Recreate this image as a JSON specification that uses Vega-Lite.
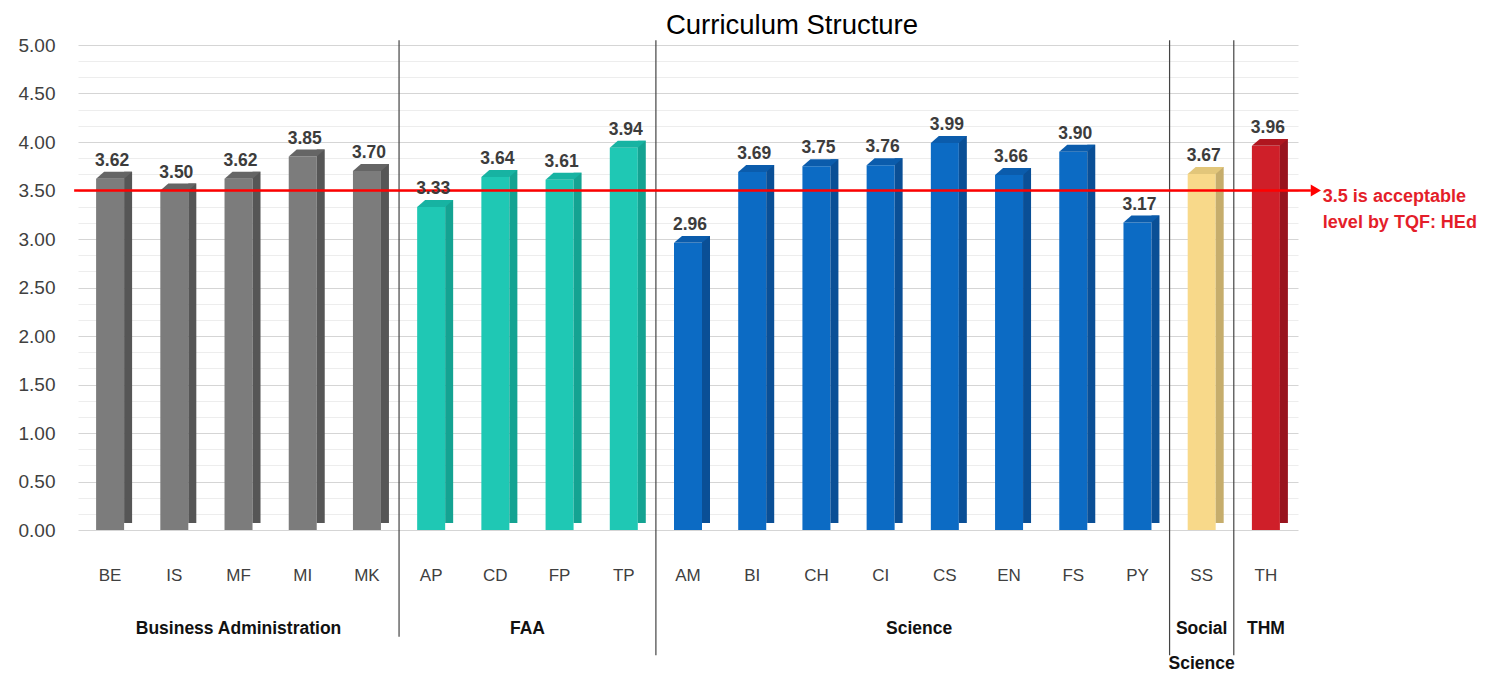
{
  "$schema": "https://vega.github.io/schema/vega-lite/v6.json",
  "width": 1220,
  "height": 485,
  "autosize": "none",
  "padding": {"left": 78, "top": 45, "right": 202, "bottom": 144},
  "background": "white",
  "config": {
    "font": "Liberation Sans",
    "view": {"stroke": null}
  },
  "title": {
    "text": "Curriculum Structure",
    "fontSize": 27.5,
    "fontWeight": "normal",
    "color": "#000000",
    "anchor": "middle",
    "dx": 104,
    "offset": -3
  },
  "data": {
    "values": [
      {"code": "BE", "group": "Business Administration", "value": 3.62},
      {"code": "IS", "group": "Business Administration", "value": 3.50},
      {"code": "MF", "group": "Business Administration", "value": 3.62},
      {"code": "MI", "group": "Business Administration", "value": 3.85},
      {"code": "MK", "group": "Business Administration", "value": 3.70},
      {"code": "AP", "group": "FAA", "value": 3.33},
      {"code": "CD", "group": "FAA", "value": 3.64},
      {"code": "FP", "group": "FAA", "value": 3.61},
      {"code": "TP", "group": "FAA", "value": 3.94},
      {"code": "AM", "group": "Science", "value": 2.96},
      {"code": "BI", "group": "Science", "value": 3.69},
      {"code": "CH", "group": "Science", "value": 3.75},
      {"code": "CI", "group": "Science", "value": 3.76},
      {"code": "CS", "group": "Science", "value": 3.99},
      {"code": "EN", "group": "Science", "value": 3.66},
      {"code": "FS", "group": "Science", "value": 3.90},
      {"code": "PY", "group": "Science", "value": 3.17},
      {"code": "SS", "group": "Social Science", "value": 3.67},
      {"code": "TH", "group": "THM", "value": 3.96}
    ]
  },
  "resolve": {"scale": {"x": "independent", "color": "independent"}, "axis": {"y": "independent"}},
  "layer": [
    {
      "mark": {"type": "bar", "width": 28},
      "encoding": {
        "x": {
          "field": "code", "type": "nominal", "sort": null,
          "scale": {"paddingInner": 0, "paddingOuter": 0},
          "axis": {"labelFontSize": 17, "labelColor": "#404040", "ticks": false, "domain": false, "labelPadding": 37, "title": null, "labelAngle": 0, "grid": false}
        },
        "y": {
          "field": "value", "type": "quantitative",
          "scale": {"domain": [0, 5], "nice": false, "zero": true},
          "axis": {
            "orient": "left",
            "values": [0, 0.5, 1, 1.5, 2, 2.5, 3, 3.5, 4, 4.5, 5],
            "format": ".2f",
            "grid": true,
            "gridColor": "#d5d5d5",
            "ticks": false, "domain": false,
            "labelFontSize": 19, "labelColor": "#404040", "labelPadding": 23,
            "labelOverlap": false, "labelFlush": false,
            "title": null
          }
        },
        "color": {
          "field": "group", "type": "nominal", "legend": null,
          "scale": {"domain": ["Business Administration", "FAA", "Science", "Social Science", "THM"], "range": ["#7c7c7c", "#1fc8b4", "#0c6bc4", "#f8d98a", "#cf1f29"]}
        }
      }
    },
    {
      "mark": {"type": "bar", "width": 8, "xOffset": 18, "yOffset": -7},
      "encoding": {
        "x": {"field": "code", "type": "nominal", "sort": null, "scale": {"paddingInner": 0, "paddingOuter": 0}, "axis": null},
        "y": {
          "field": "value", "type": "quantitative",
          "axis": {
            "orient": "left",
            "values": [0.16667, 0.33333, 0.66667, 0.83333, 1.16667, 1.33333, 1.66667, 1.83333, 2.16667, 2.33333, 2.66667, 2.83333, 3.16667, 3.33333, 3.66667, 3.83333, 4.16667, 4.33333, 4.66667, 4.83333],
            "labels": false, "ticks": false, "domain": false,
            "grid": true, "gridColor": "#ededed",
            "title": null
          }
        },
        "color": {
          "field": "group", "type": "nominal", "legend": null,
          "scale": {"domain": ["Business Administration", "FAA", "Science", "Social Science", "THM"], "range": ["#565656", "#14a392", "#0a4f96", "#c6ad6c", "#98141e"]}
        }
      }
    },
    {
      "mark": {"type": "point", "filled": true, "opacity": 1, "strokeWidth": 0, "size": 1296, "xOffset": 4, "yOffset": -3.5,
        "shape": "M -1 0.194 L 0.556 0.194 L 1 -0.194 L -0.556 -0.194 Z"},
      "encoding": {
        "x": {"field": "code", "type": "nominal", "sort": null, "scale": {"paddingInner": 0, "paddingOuter": 0}, "axis": null},
        "y": {"field": "value", "type": "quantitative", "axis": null},
        "color": {
          "field": "group", "type": "nominal", "legend": null,
          "scale": {"domain": ["Business Administration", "FAA", "Science", "Social Science", "THM"], "range": ["#656565", "#17b3a2", "#0b5cac", "#e2c67a", "#b0161f"]}
        }
      }
    },
    {
      "data": {"values": [
        {"pos": 5, "top": 5.05, "bottom": -1.1},
        {"pos": 9, "top": 5.05, "bottom": -1.29},
        {"pos": 17, "top": 5.05, "bottom": -1.29},
        {"pos": 18, "top": 5.05, "bottom": -1.29}
      ]},
      "mark": {"type": "rule", "color": "#444444", "strokeWidth": 1.2, "clip": false},
      "encoding": {
        "x": {"field": "pos", "type": "quantitative", "scale": {"domain": [0, 19], "nice": false, "zero": false}, "axis": null},
        "y": {"field": "top", "type": "quantitative", "axis": null},
        "y2": {"field": "bottom"}
      }
    },
    {
      "data": {"values": [
        {"label": "Business Administration", "pos": 2.5},
        {"label": "FAA", "pos": 7},
        {"label": "Science", "pos": 13.1},
        {"label": "Social\nScience", "pos": 17.5},
        {"label": "THM", "pos": 18.5}
      ]},
      "mark": {"type": "text", "fontSize": 17.5, "fontWeight": "bold", "color": "#111111", "align": "center", "baseline": "alphabetic", "lineBreak": "\n", "lineHeight": 35, "clip": false},
      "encoding": {
        "x": {"field": "pos", "type": "quantitative", "scale": {"domain": [0, 19], "nice": false, "zero": false}, "axis": null},
        "y": {"datum": -1.075, "type": "quantitative", "axis": null},
        "text": {"field": "label"}
      }
    },
    {
      "data": {"values": [{"start": -0.06, "end": 19.2, "level": 3.5, "note": "3.5 is acceptable\nlevel by TQF: HEd"}]},
      "layer": [
        {
          "mark": {"type": "rule", "color": "#ff0000", "strokeWidth": 2.5, "clip": false},
          "encoding": {
            "x": {"field": "start", "type": "quantitative", "scale": {"domain": [0, 19], "nice": false, "zero": false}, "axis": null},
            "x2": {"field": "end"},
            "y": {"field": "level", "type": "quantitative", "axis": null}
          }
        },
        {
          "mark": {"type": "point", "shape": "triangle-right", "filled": true, "color": "#ff0000", "opacity": 1, "size": 140, "xOffset": 5, "clip": false},
          "encoding": {
            "x": {"field": "end", "type": "quantitative", "scale": {"domain": [0, 19], "nice": false, "zero": false}, "axis": null},
            "y": {"field": "level", "type": "quantitative", "axis": null}
          }
        },
        {
          "mark": {"type": "text", "lineBreak": "\n", "lineHeight": 26, "fontSize": 18, "fontWeight": "bold", "color": "#e41e2a", "align": "left", "baseline": "alphabetic", "dx": 12, "dy": 11.5, "clip": false},
          "encoding": {
            "x": {"field": "end", "type": "quantitative", "scale": {"domain": [0, 19], "nice": false, "zero": false}, "axis": null},
            "y": {"field": "level", "type": "quantitative", "axis": null},
            "text": {"field": "note"}
          }
        }
      ]
    },
    {
      "mark": {"type": "text", "fontSize": 17.5, "fontWeight": "bold", "color": "#3c3c3c", "align": "center", "baseline": "alphabetic", "dy": -13, "xOffset": 2},
      "encoding": {
        "x": {"field": "code", "type": "nominal", "sort": null, "scale": {"paddingInner": 0, "paddingOuter": 0}, "axis": null},
        "y": {"field": "value", "type": "quantitative", "axis": null},
        "text": {"field": "value", "type": "quantitative", "format": ".2f"}
      }
    }
  ]
}
